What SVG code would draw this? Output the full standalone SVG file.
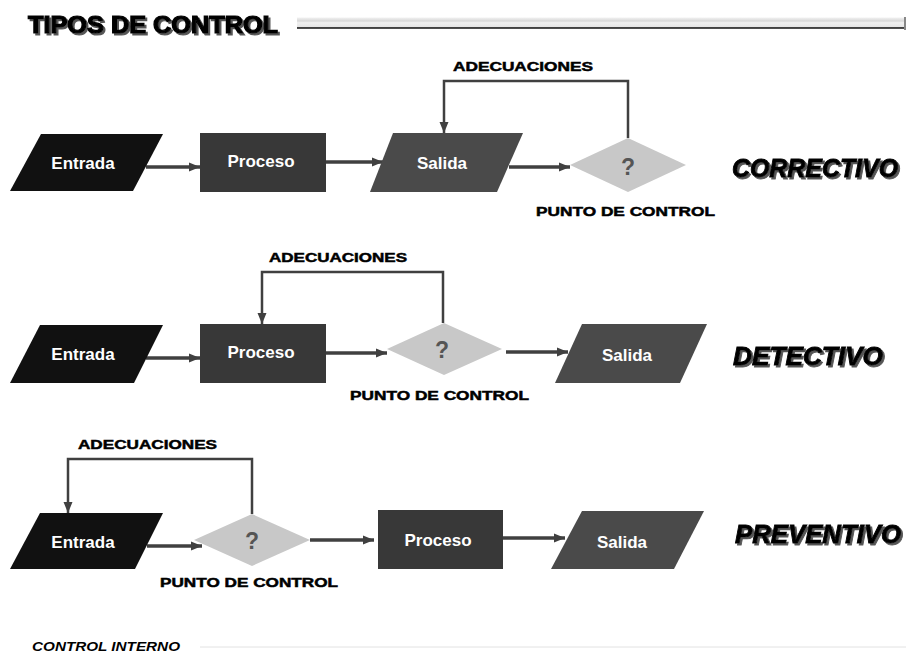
<svg xmlns="http://www.w3.org/2000/svg" width="909" height="655" viewBox="0 0 909 655">
<defs>
<marker id="ah" markerUnits="userSpaceOnUse" markerWidth="12" markerHeight="10" refX="11" refY="5" orient="auto">
<path d="M0,0.5 L11,5 L0,9.5 Z" fill="#404040"/>
</marker>
<linearGradient id="bar" x1="0" y1="0" x2="0" y2="1">
<stop offset="0" stop-color="#f2f2f2"/>
<stop offset="0.3" stop-color="#d8d8d8"/>
<stop offset="0.45" stop-color="#f0f0f0"/>
<stop offset="0.8" stop-color="#e6e6e6"/>
<stop offset="0.82" stop-color="#3a3a3a"/>
<stop offset="1" stop-color="#555"/>
</linearGradient>
<filter id="sh" x="-5%" y="-20%" width="115%" height="150%">
<feDropShadow dx="2" dy="2" stdDeviation="0.4" flood-color="#555" flood-opacity="1"/>
</filter>
</defs>
<style>
.in{fill:#111}
.pr{fill:#383838}
.out{fill:#4a4a4a}
.dm{fill:#c8c8c8}
.bt{font-family:"Liberation Sans",Arial,sans-serif;font-weight:bold;font-size:17px;fill:#fff;text-anchor:middle}
.q{font-family:"Liberation Sans",Arial,sans-serif;font-weight:bold;font-size:23px;fill:#555;text-anchor:middle}
.lb{font-family:"Liberation Sans",Arial,sans-serif;font-weight:bold;font-size:13.5px;fill:#000;stroke:#000;stroke-width:0.5}
.ty{font-family:"Liberation Sans",Arial,sans-serif;font-weight:bold;font-style:italic;font-size:26px;fill:#000;stroke:#000;stroke-width:0.9;filter:url(#sh)}
.c{fill:none;stroke:#404040;stroke-width:3.5}
.f{fill:none;stroke:#404040;stroke-width:2.5}
</style>

<g id="title">
<text x="28" y="33" font-family="'Liberation Sans',Arial,sans-serif" font-weight="bold" font-size="23" fill="#000" stroke="#000" stroke-width="1.2" textLength="250" lengthAdjust="spacingAndGlyphs" filter="url(#sh)">TIPOS DE CONTROL</text>
<rect x="297" y="17.5" width="608" height="11.5" fill="url(#bar)"/>
<rect x="904" y="17" width="2" height="13" fill="#888"/>
</g>

<g id="connectors">
<line class="c" x1="146" y1="167" x2="200" y2="167" marker-end="url(#ah)"/>
<line class="c" x1="326" y1="162" x2="383" y2="162" marker-end="url(#ah)"/>
<line class="c" x1="509" y1="167" x2="570" y2="167" marker-end="url(#ah)"/>
<polyline class="f" points="628,138 628,81 444,81 444,133" marker-end="url(#ah)"/>
<line class="c" x1="146" y1="358" x2="200" y2="358" marker-end="url(#ah)"/>
<line class="c" x1="326" y1="353" x2="387" y2="353" marker-end="url(#ah)"/>
<line class="c" x1="506" y1="352" x2="568" y2="352" marker-end="url(#ah)"/>
<polyline class="f" points="443,323 443,272 262,272 262,324" marker-end="url(#ah)"/>
<line class="c" x1="147" y1="546" x2="202" y2="546" marker-end="url(#ah)"/>
<line class="c" x1="310" y1="540" x2="374" y2="540" marker-end="url(#ah)"/>
<line class="c" x1="503" y1="538" x2="565" y2="538" marker-end="url(#ah)"/>
<polyline class="f" points="252,514 252,459 68,459 68,513" marker-end="url(#ah)"/>
</g>

<g id="r1-entrada"><polygon class="in" points="41,134 163,134 133,191 10,191"/><text class="bt" x="83" y="169">Entrada</text></g>
<g id="r1-proceso"><rect class="pr" x="200" y="133" width="126" height="59"/><text class="bt" x="261" y="167">Proceso</text></g>
<g id="r1-salida"><polygon class="out" points="393,133 523,133 497,192 370,192"/><text class="bt" x="442" y="169">Salida</text></g>
<g id="r1-control"><polygon class="dm" points="628,138 686,165 628,192 570,165"/><text class="q" x="628" y="175">?</text>
<text class="lb" x="536" y="216" textLength="179" lengthAdjust="spacingAndGlyphs">PUNTO DE CONTROL</text></g>
<g id="r1-adec"><text class="lb" x="453" y="71" textLength="140" lengthAdjust="spacingAndGlyphs">ADECUACIONES</text></g>
<g id="r1-tipo"><text class="ty" x="732" y="177" textLength="166" lengthAdjust="spacingAndGlyphs">CORRECTIVO</text></g>

<g id="r2-entrada"><polygon class="in" points="40,325 163,325 134,383 10,383"/><text class="bt" x="83" y="360">Entrada</text></g>
<g id="r2-proceso"><rect class="pr" x="200" y="324" width="126" height="59"/><text class="bt" x="261" y="358">Proceso</text></g>
<g id="r2-control"><polygon class="dm" points="444,323 502,349 444,375 387,349"/><text class="q" x="442" y="358">?</text>
<text class="lb" x="350" y="400" textLength="179" lengthAdjust="spacingAndGlyphs">PUNTO DE CONTROL</text></g>
<g id="r2-salida"><polygon class="out" points="582,324 707,324 680,383 555,383"/><text class="bt" x="627" y="361">Salida</text></g>
<g id="r2-adec"><text class="lb" x="269" y="262" textLength="138" lengthAdjust="spacingAndGlyphs">ADECUACIONES</text></g>
<g id="r2-tipo"><text class="ty" x="733" y="365" textLength="150" lengthAdjust="spacingAndGlyphs">DETECTIVO</text></g>

<g id="r3-entrada"><polygon class="in" points="40,513 163,513 135,569 10,569"/><text class="bt" x="83" y="548">Entrada</text></g>
<g id="r3-control"><polygon class="dm" points="252,514 310,540 252,566 194,540"/><text class="q" x="252" y="549">?</text>
<text class="lb" x="160" y="587" textLength="178" lengthAdjust="spacingAndGlyphs">PUNTO DE CONTROL</text></g>
<g id="r3-proceso"><rect class="pr" x="378" y="510" width="125" height="59"/><text class="bt" x="438" y="546">Proceso</text></g>
<g id="r3-salida"><polygon class="out" points="582,511 704,511 674,569 551,569"/><text class="bt" x="622" y="548">Salida</text></g>
<g id="r3-adec"><text class="lb" x="78" y="449" textLength="139" lengthAdjust="spacingAndGlyphs">ADECUACIONES</text></g>
<g id="r3-tipo"><text class="ty" x="735" y="543" textLength="166" lengthAdjust="spacingAndGlyphs">PREVENTIVO</text></g>

<g id="footer">
<text x="32" y="651" font-family="'Liberation Sans',Arial,sans-serif" font-weight="bold" font-style="italic" font-size="13" fill="#000" textLength="148" lengthAdjust="spacingAndGlyphs">CONTROL INTERNO</text>
<line x1="200" y1="647" x2="906" y2="647" stroke="#e2e2e2" stroke-width="1"/>
</g>
</svg>
